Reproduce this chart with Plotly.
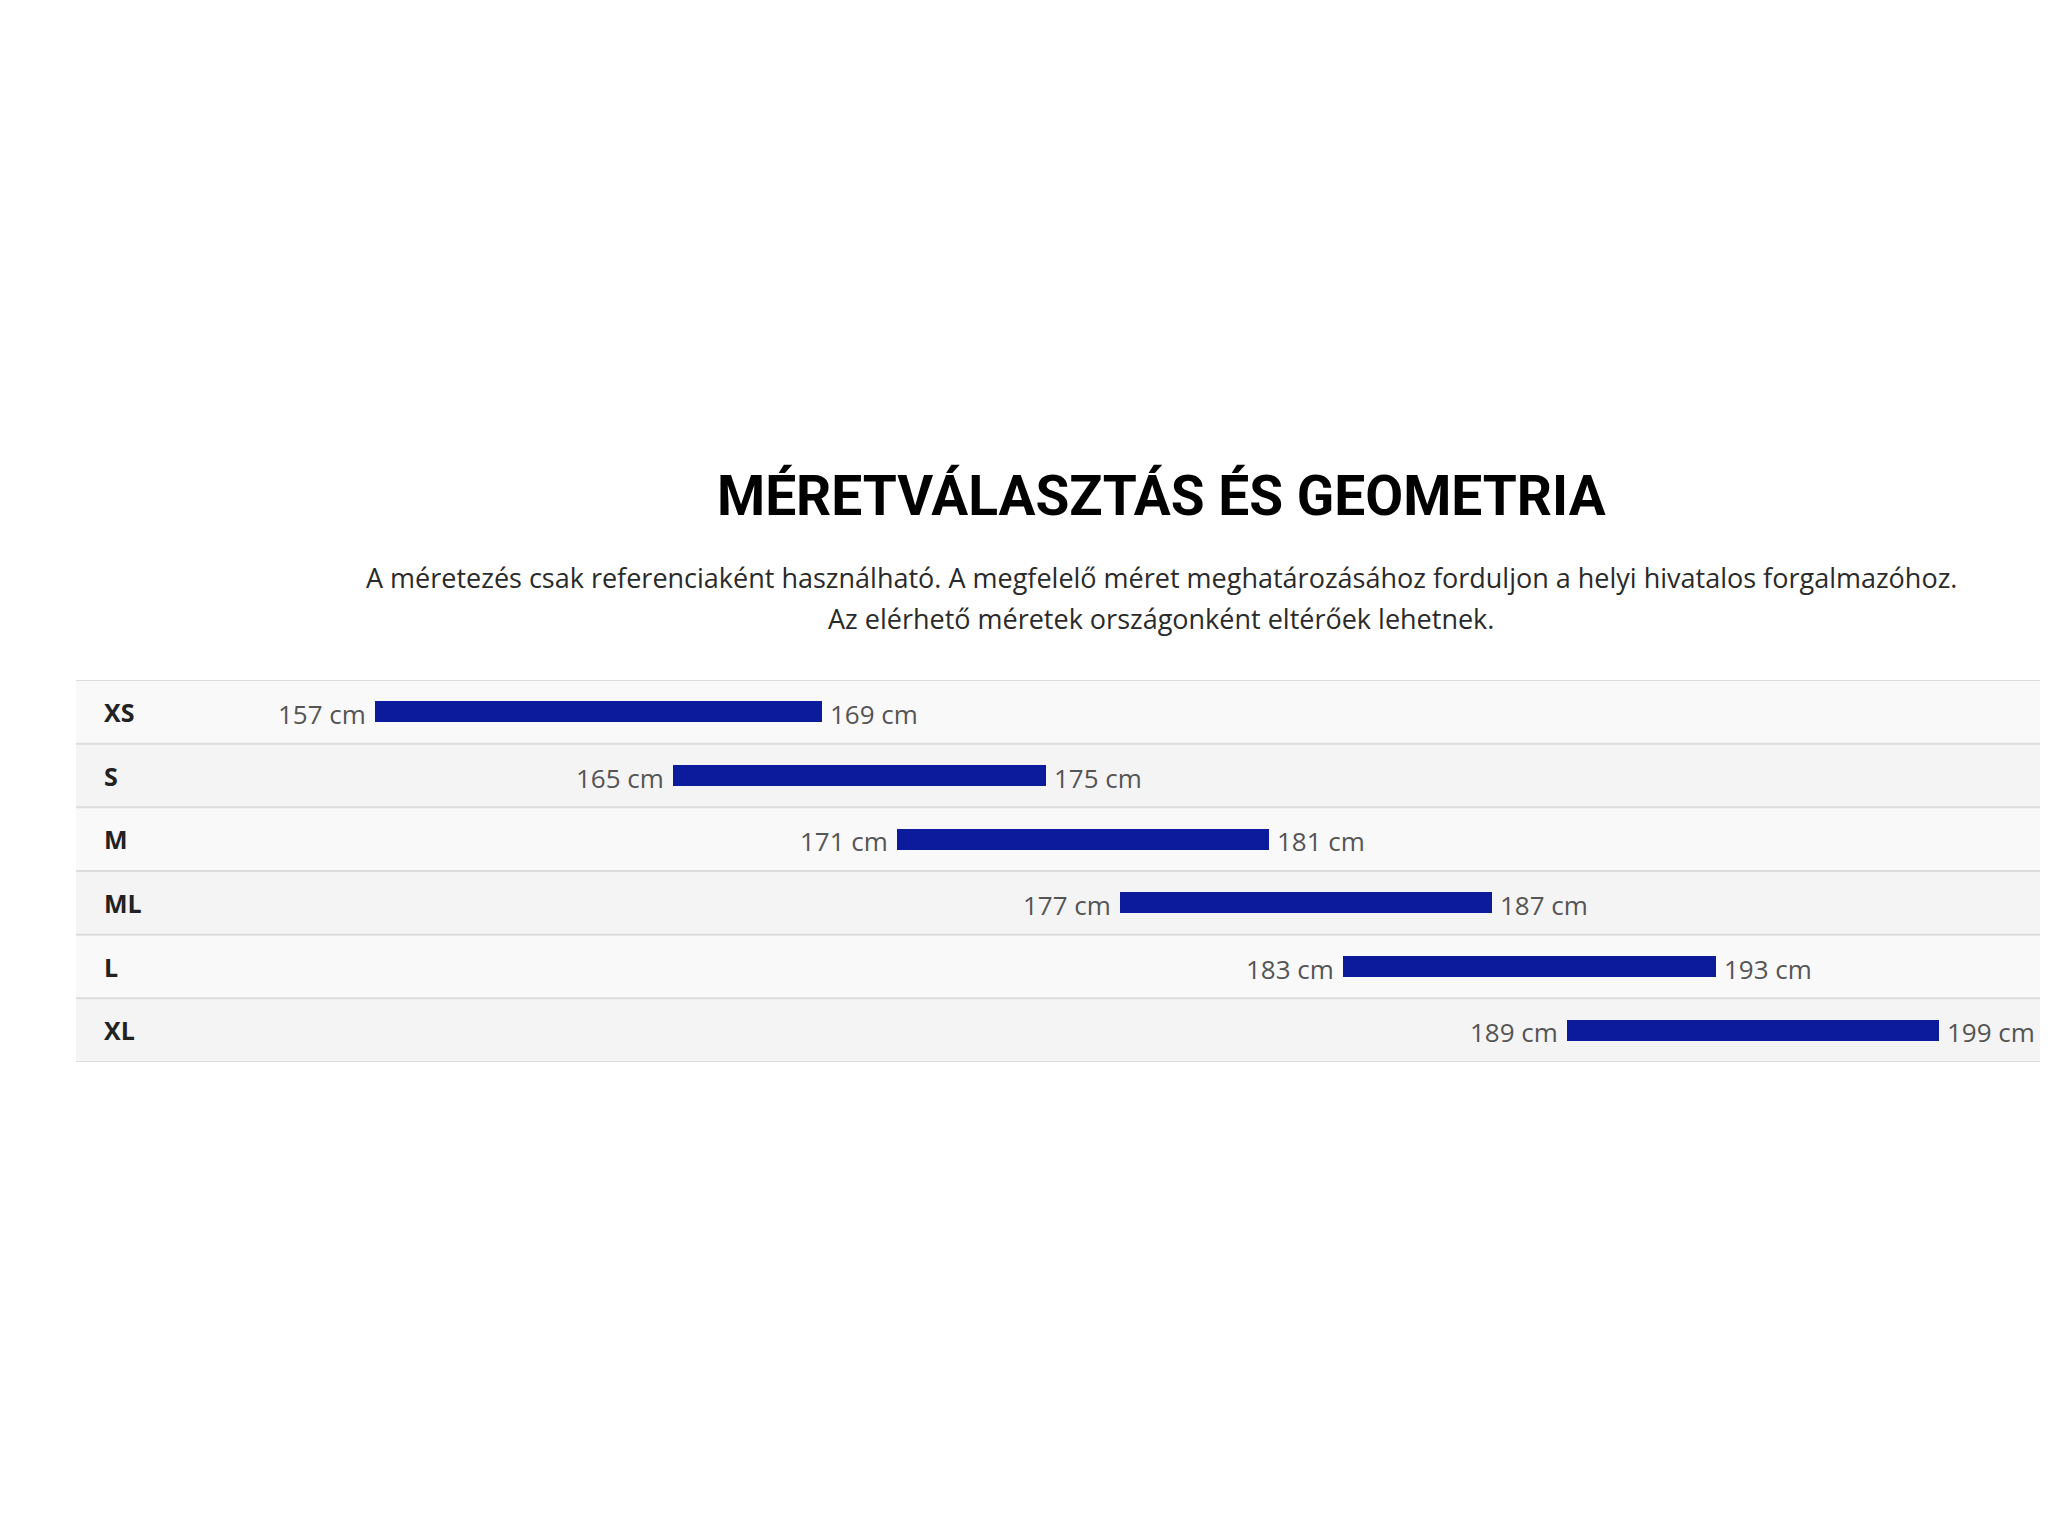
import plotly.graph_objects as go

# ---- data ----
sizes = ["XS", "S", "M", "ML", "L", "XL"]
height_min = [157, 165, 171, 177, 183, 189]
height_max = [169, 175, 181, 187, 193, 199]
unit = "cm"

title_text = "MÉRETVÁLASZTÁS ÉS GEOMETRIA"
subtitle_lines = [
    "A méretezés csak referenciaként használható. A megfelelő méret meghatározásához forduljon a helyi hivatalos forgalmazóhoz.",
    "Az elérhető méretek országonként eltérőek lehetnek.",
]

# page body has an 8px margin, so the figure is placed at (8, 8)
OFF = 8
W, H = 2048 - OFF, 1520
BAR_COLOR = "#0c1a9c"
ROW_BG = ["#f9f9f9", "#f4f4f4"]
LINE_COLOR = "#dddddd"


def px(x):
    return (x - OFF) / W


def py(y):
    return 1 - (y - OFF) / H


TABLE_LEFT = px(76)
TABLE_TOP = 680
TABLE_BOTTOM = 1062

fig = go.Figure()

fig.add_trace(go.Bar(
    y=sizes,
    x=[hi - lo for lo, hi in zip(height_min, height_max)],
    base=height_min,
    orientation="h",
    width=0.325,
    marker=dict(color=BAR_COLOR, line=dict(width=0)),
    hoverinfo="skip",
    showlegend=False,
))

shapes = []
for i, s in enumerate(sizes):
    shapes.append(dict(
        type="rect", xref="paper", yref="y",
        x0=TABLE_LEFT, x1=1, y0=i - 0.5, y1=i + 0.5,
        fillcolor=ROW_BG[i % 2], line=dict(width=0), layer="below",
    ))
for i in range(len(sizes) + 1):
    shapes.append(dict(
        type="line", xref="paper", yref="y",
        x0=TABLE_LEFT, x1=1, y0=i - 0.5, y1=i - 0.5,
        line=dict(color=LINE_COLOR, width=2), layer="below",
    ))

annotations = []
for i, s in enumerate(sizes):
    annotations.append(dict(
        xref="paper", yref="y", x=px(102), y=s,
        text=s, showarrow=False, xanchor="left", yanchor="middle",
        font=dict(family="Open Sans", size=25, color="#222222", weight="bold"),
    ))
    annotations.append(dict(
        xref="x", yref="y", x=height_min[i], y=s, yshift=-2,
        text=f"{height_min[i]} {unit}", showarrow=False,
        xanchor="right", yanchor="middle", xshift=-7,
        font=dict(family="Open Sans", size=26, color="#555555"),
    ))
    annotations.append(dict(
        xref="x", yref="y", x=height_max[i], y=s, yshift=-2,
        text=f"{height_max[i]} {unit}", showarrow=False,
        xanchor="left", yanchor="middle", xshift=6,
        font=dict(family="Open Sans", size=26, color="#555555"),
    ))

annotations.append(dict(
    xref="paper", yref="paper", x=px(1161), y=py(496),
    text=title_text, showarrow=False, xanchor="center", yanchor="middle",
    font=dict(family="Roboto", size=55, color="#000000", weight="bold"),
))
for j, line in enumerate(subtitle_lines):
    annotations.append(dict(
        xref="paper", yref="paper", x=px(1161), y=py(577 + 41 * j),
        text=line, showarrow=False, xanchor="center", yanchor="middle",
        font=dict(family="Open Sans", size=27, color="#2a2a2a"),
    ))

fig.update_layout(
    width=W, height=H,
    margin=dict(l=0, r=0, t=0, b=0),
    paper_bgcolor="#ffffff",
    plot_bgcolor="rgba(0,0,0,0)",
    shapes=shapes,
    annotations=annotations,
    xaxis=dict(range=[147.13, 201.93], domain=[0, 1], visible=False, fixedrange=True),
    yaxis=dict(
        type="category", categoryorder="array", categoryarray=sizes,
        range=[5.5, -0.5],
        domain=[py(TABLE_BOTTOM), py(TABLE_TOP)],
        visible=False, fixedrange=True,
    ),
    bargap=0,
)

fig.write_html("out.html")
